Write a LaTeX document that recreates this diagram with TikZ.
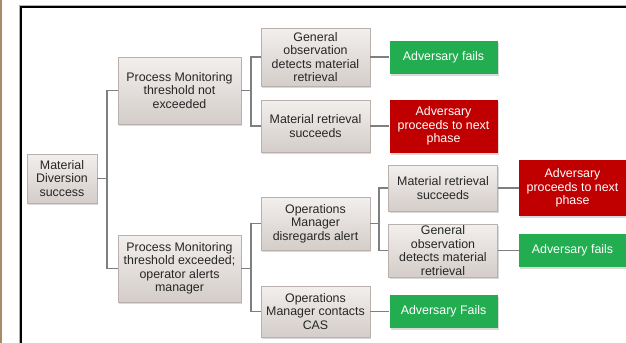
\documentclass[tikz,border=0pt]{standalone}
\usepackage{fontspec}
\setmainfont{Liberation Sans}
\usetikzlibrary{positioning,shadows}
\definecolor{boxtop}{HTML}{F2EFED}
\definecolor{boxbot}{HTML}{D4CDC9}
\definecolor{boxline}{HTML}{B9B1AD}
\definecolor{okgreen}{HTML}{22AD50}
\definecolor{badred}{HTML}{C00000}
\definecolor{linkgray}{HTML}{7F7F7F}
\definecolor{edgebrown}{HTML}{A98B67}
\tikzset{
  gbox/.style={rectangle,draw=boxline,top color=boxtop,bottom color=boxbot,
               drop shadow={shadow xshift=1pt,shadow yshift=-1.5pt,opacity=0.3},
               minimum width=81.75pt,minimum height=#1,inner sep=1pt,
               font=\fontsize{9.3}{10.1}\selectfont,align=center,text=black!85},
  okbox/.style={rectangle,fill=okgreen,
                drop shadow={shadow xshift=1pt,shadow yshift=-1.5pt,opacity=0.3},
                minimum width=81pt,minimum height=24.75pt,inner sep=1pt,
                font=\fontsize{9.3}{10.1}\selectfont,align=center,text=white},
  badbox/.style={rectangle,fill=badred,
                 drop shadow={shadow xshift=1pt,shadow yshift=-1.5pt,opacity=0.3},
                 minimum width=81pt,minimum height=#1,inner sep=1pt,
                 font=\fontsize{9.3}{10.1}\selectfont,align=center,text=white},
  link/.style={draw=linkgray,line width=1.4pt},
}
\begin{document}
\begin{tikzpicture}[x=0.75pt,y=-0.75pt,node distance=14.25pt]
  \useasboundingbox (0,0) rectangle (626,343);

  %% -- page frame ---------------------------------------------------------
  \fill[edgebrown] (0,0) rectangle (1.6,343);
  \draw[black!30,line width=0.8pt] (19.5,343) -- (19.5,5.5) -- (626,5.5);
  \draw[black,line width=1.8pt] (21,343) -- (21,7) -- (626,7);

  %% -- root and first split -----------------------------------------------
  \node[gbox=36.75pt,minimum width=52.5pt] (mds) at (62,178.5)
        {Material\\Diversion\\success};
  \node[gbox=50.25pt,minimum width=92.25pt] (pmno) at (179.5,90.5)
        {Process Monitoring\\threshold not\\exceeded};
  \node[gbox=50.25pt,minimum width=92.25pt] (pmyes) at (179.5,268.5)
        {Process Monitoring\\threshold exceeded;\\operator alerts\\manager};

  %% -- second level -------------------------------------------------------
  \node[gbox=43.5pt]  (gobs1) at (315.5,57)    {General\\observation\\detects material\\retrieval};
  \node[gbox=39pt]    (mret1) at (315.5,126)   {Material retrieval\\succeeds};
  \node[gbox=39.75pt] (omdis) at (315.5,223.5) {Operations\\Manager\\disregards alert};
  \node[gbox=38.25pt] (omcas) at (315.5,311.5) {Operations\\Manager contacts\\CAS};

  %% -- third level --------------------------------------------------------
  \node[okbox,right=of gobs1]        (fail1) {Adversary fails};
  \node[badbox=39.75pt,right=of mret1] (next1) {Adversary\\proceeds to next\\phase};
  \node[gbox=34.5pt]  (mret2) at (443,188)   {Material retrieval\\succeeds};
  \node[gbox=39.75pt] (gobs2) at (443,250.5) {General\\observation\\detects material\\retrieval};
  \node[okbox,right=of omcas]        (fail3) {Adversary Fails};

  %% -- fourth level -------------------------------------------------------
  \node[badbox=42pt,right=15.75pt of mret2,minimum width=80.25pt] (next2)
        {Adversary\\proceeds to next\\phase};
  \node[okbox,right=15.75pt of gobs2,minimum width=80.25pt] (fail2)
        {Adversary fails};

  %% -- connectors ---------------------------------------------------------
  \draw[link] (mds.east) -- ++(10,0) |- (pmno.west);
  \draw[link] (mds.east) -- ++(10,0) |- (pmyes.west);
  \draw[link] (pmno.east) -- ++(10,0) |- (gobs1.west);
  \draw[link] (pmno.east) -- ++(10,0) |- (mret1.west);
  \draw[link] (pmyes.east) -- ++(10,0) |- (omdis.west);
  \draw[link] (pmyes.east) -- ++(10,0) |- (omcas.west);
  \draw[link] (omdis.east) -- ++(9,0) |- (mret2.west);
  \draw[link] (omdis.east) -- ++(9,0) |- (gobs2.west);
  \draw[link] (gobs1) -- (fail1);
  \draw[link] (mret1) -- (next1);
  \draw[link] (omcas) -- (fail3);
  \draw[link] (mret2) -- (next2);
  \draw[link] (gobs2) -- (fail2);
\end{tikzpicture}
\end{document}
